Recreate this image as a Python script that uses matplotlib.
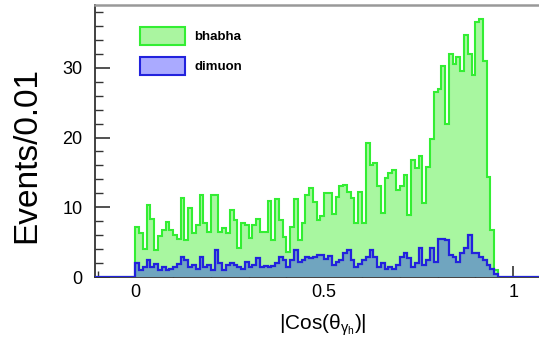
import numpy as np
import matplotlib
matplotlib.use('Agg')
import matplotlib.pyplot as plt
from matplotlib.ticker import MultipleLocator
from matplotlib.patches import Patch

plt.rcParams['font.family'] = ['Liberation Sans', 'DejaVu Sans']
plt.rcParams['mathtext.fontset'] = 'custom'
plt.rcParams['mathtext.rm'] = 'Liberation Sans'
plt.rcParams['mathtext.it'] = 'Liberation Sans'

# bin width 0.01, starting at 0
bin_width = 0.01
bin_start = 0.0

bhabha = [7.1, 6.3, 4.0, 10.3, 8.3, 3.9, 5.9, 6.8, 7.9, 6.7,
          6.0, 5.5, 11.4, 5.3, 9.9, 6.3, 7.5, 11.8, 7.7, 6.5,
          11.8, 11.8, 6.5, 7.0, 6.3, 9.6, 8.2, 4.1, 7.7, 7.5,
          5.6, 7.5, 8.3, 6.5, 6.5, 10.9, 5.3, 11.2, 8.2, 5.8,
          3.6, 7.2, 11.2, 5.3, 7.8, 11.8, 12.7, 10.8, 8.2, 8.7,
          12.1, 12.1, 9.0, 11.5, 13.0, 13.2, 12.2, 11.4, 7.7, 12.2,
          7.7, 19.2, 16.1, 16.3, 13.0, 9.2, 14.2, 14.9, 15.4, 12.5,
          13.0, 14.6, 8.9, 16.8, 15.6, 17.4, 10.6, 15.8, 19.8, 26.5,
          26.9, 30.3, 22.0, 32.0, 30.5, 31.5, 29.5, 34.7, 32.0, 29.0,
          36.5, 37.0, 31.0, 14.3, 6.7, 1.0]

dimuon = [2.0, 1.0, 1.5, 2.4, 1.5, 1.9, 1.0, 1.5, 1.0, 1.2,
          1.5, 1.9, 2.8, 2.4, 1.5, 1.7, 1.2, 2.8, 1.5, 1.7,
          1.0, 3.9, 2.0, 1.0, 1.7, 2.0, 1.7, 1.5, 1.2, 2.2,
          1.5, 1.7, 2.7, 1.5, 1.6, 1.4, 1.6, 2.0, 2.9, 2.4,
          1.5, 2.4, 3.9, 2.2, 2.4, 2.9, 2.7, 2.9, 3.2, 3.2,
          2.6, 3.0, 1.7, 2.2, 2.4, 3.4, 3.9, 2.4, 1.5, 1.9,
          2.4, 2.9, 3.9, 2.9, 1.5, 2.0, 1.2, 1.5, 1.1, 1.7,
          2.9, 3.4, 2.7, 1.5, 2.0, 4.1, 1.7, 2.4, 4.1, 2.2,
          5.5, 5.5, 5.3, 3.2, 2.9, 2.2, 3.4, 4.1, 6.0, 3.4,
          3.4, 2.9, 2.4, 1.7, 1.1, 0.4]

labels = ['bhabha', 'dimuon']

# histogram range is wider than the filled region (empty bins on both sides)
n_low, n_high = 11, 12
edges = bin_start + bin_width * np.arange(-n_low, len(bhabha) + n_high + 1)
bh = np.concatenate([np.zeros(n_low), bhabha, np.zeros(n_high)])
dm = np.concatenate([np.zeros(n_low), dimuon, np.zeros(n_high)])

fig = plt.figure(figsize=(5.39, 3.46), dpi=100)
ax = fig.add_axes([0.176, 0.1994, 0.83, 0.786])

ax.stairs(bh, edges, fill=True, color='#a8f7a0', zorder=3)
ax.stairs(bh, edges, color='#33ee33', lw=1.5, zorder=3)
ax.stairs(dm, edges, fill=True, color='#0000ff', alpha=0.33, lw=0, zorder=3)
ax.stairs(dm, edges, color='#2222dd', lw=1.6, zorder=4)

# legend proxies
handles = [Patch(facecolor='#aaf5a0', edgecolor='#33ee33', lw=1.5),
           Patch(facecolor='#aaaaff', edgecolor='#2222dd', lw=1.5)]
ax.legend(handles, labels, loc='upper left', bbox_to_anchor=(0.09, 0.94),
          frameon=False, prop={'weight': 'bold', 'size': 9.5},
          handlelength=3.4, handleheight=1.8, labelspacing=0.85,
          handletextpad=0.7, borderaxespad=0)

ax.set_xlim(-0.107, 1.077)
ax.set_ylim(0, 39)

ax.xaxis.set_minor_locator(MultipleLocator(0.1))
ax.yaxis.set_minor_locator(MultipleLocator(2))
ax.set_xticks([0, 0.5, 1])
ax.set_xticklabels(['0', '0.5', '1'])
ax.set_yticks([0, 10, 20, 30])
ax.set_yticklabels(['0', '10', '20', '30'])

ax.tick_params(axis='both', which='both', direction='in', color='#333333',
               labelsize=13, top=False, right=False)
ax.tick_params(axis='y', which='major', length=11, width=1.2, pad=9)
ax.tick_params(axis='y', which='minor', length=6, width=1.0)
ax.tick_params(axis='x', which='major', length=8, width=1.2, pad=5)
ax.tick_params(axis='x', which='minor', length=4, width=1.0)

ax.spines['right'].set_visible(False)
ax.spines['top'].set_color('#999999')
ax.spines['top'].set_linewidth(1.8)
ax.spines['left'].set_color('#333333')
ax.spines['left'].set_linewidth(1.3)
ax.spines['bottom'].set_color('#333333')
ax.spines['bottom'].set_linewidth(1.3)

ax.set_ylabel('Events/0.01', fontsize=24)
ax.yaxis.set_label_coords(-0.118, 0.45)
ax.set_xlabel(r'|Cos($\theta_{\gamma_{h}}$)|', fontsize=15)
ax.xaxis.set_label_coords(0.51, -0.13)

fig.savefig('out.png', dpi=100)
